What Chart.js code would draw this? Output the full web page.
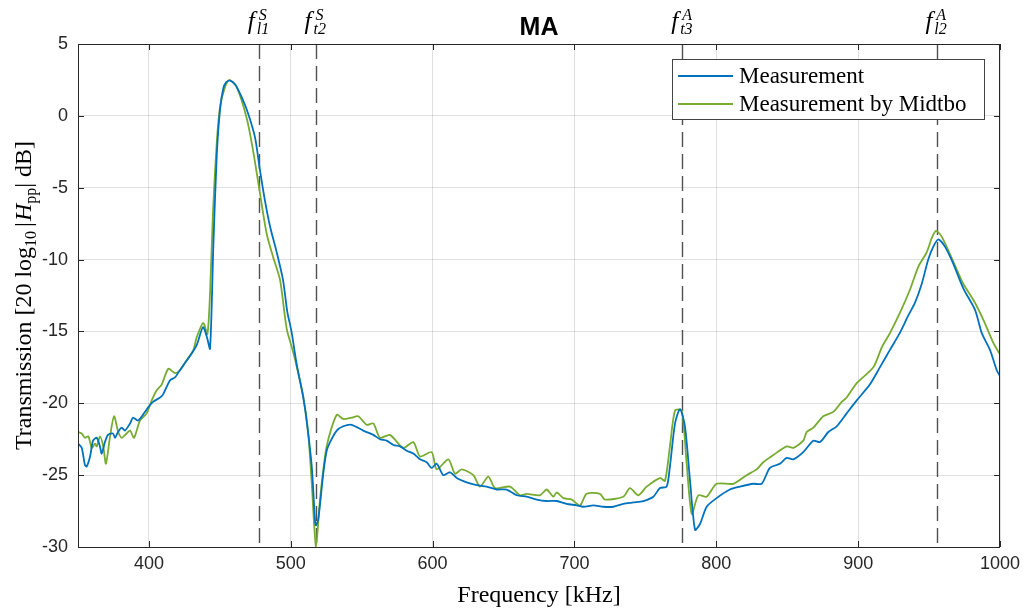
<!DOCTYPE html>
<html>
<head>
<meta charset="utf-8">
<script src="https://cdn.jsdelivr.net/npm/chart.js@4/dist/chart.umd.min.js"></script>
<style>
  html, body { margin: 0; padding: 0; background: #fff; }
  #wrap { width: 1023px; height: 610px; }
</style>
</head>
<body>
<div id="wrap"><canvas id="chart"></canvas></div>
<script>
// transmission spectra, frequency in kHz, level in dB
const freqMeas = [350.0, 352.6, 354.9, 356.1, 358.5, 360.6, 363.2, 365.5, 366.7, 369.0, 371.1, 374.7, 376.1, 378.2, 380.8, 383.1, 386.7, 388.8, 392.3, 397.2, 399.3, 402.9, 407.8, 409.9, 414.9, 418.4, 420.5, 425.4, 430.4, 433.9, 438.1, 440.9, 443.1, 445.4, 447.8, 450.1, 452.4, 454.5, 457.2, 460.7, 465.4, 469.8, 474.8, 478.3, 481.8, 485.4, 490.1, 494.5, 497.5, 500.5, 504.2, 508.8, 511.2, 514.8, 517.1, 517.8, 519.5, 522.9, 525.3, 527.7, 532.4, 537.0, 542.9, 551.1, 558.2, 562.9, 567.6, 572.3, 577.0, 581.7, 586.4, 591.1, 595.8, 599.3, 602.9, 607.5, 612.3, 617.0, 624.0, 631.1, 638.1, 645.2, 652.2, 659.3, 666.3, 673.4, 680.4, 687.5, 694.5, 701.6, 706.3, 713.3, 720.3, 727.4, 734.4, 741.5, 748.5, 755.6, 760.3, 765.0, 767.3, 770.9, 774.4, 777.9, 781.4, 785.0, 788.5, 793.2, 800.2, 809.6, 816.7, 826.1, 832.0, 837.8, 844.9, 849.6, 854.3, 861.3, 868.4, 873.1, 879.0, 884.9, 891.9, 899.0, 908.2, 915.3, 922.3, 929.4, 935.3, 940.1, 944.8, 949.4, 953.0, 956.5, 961.2, 967.1, 974.1, 982.4, 987.1, 993.0, 997.7, 1000.0];
const dbMeas = [-22.8, -23.1, -24.3, -24.4, -23.7, -22.6, -22.4, -23.0, -23.5, -22.7, -22.2, -22.1, -22.4, -22.0, -21.7, -21.9, -21.4, -21.0, -21.2, -20.6, -20.3, -19.9, -19.6, -19.4, -18.4, -18.2, -17.9, -17.2, -16.5, -15.9, -14.7, -15.4, -16.2, -9.1, -2.8, 0.4, 1.9, 2.35, 2.45, 2.2, 1.3, 0.2, -1.5, -3.8, -5.9, -7.7, -9.5, -11.4, -13.6, -15.0, -17.3, -19.6, -21.2, -24.4, -28.2, -28.5, -28.0, -24.9, -23.3, -22.7, -21.9, -21.6, -21.5, -21.9, -22.2, -22.5, -22.6, -22.9, -23.0, -23.3, -23.5, -23.9, -24.1, -24.5, -24.2, -25.0, -24.8, -25.2, -25.5, -25.7, -25.8, -26.0, -26.0, -26.4, -26.5, -26.7, -26.8, -26.8, -27.0, -27.1, -27.2, -27.1, -27.2, -27.2, -27.0, -26.9, -26.8, -26.5, -25.9, -25.8, -24.4, -21.4, -20.4, -21.6, -25.3, -28.8, -28.4, -27.2, -26.6, -26.0, -25.8, -25.6, -25.6, -24.5, -24.2, -23.8, -23.9, -23.4, -22.6, -22.7, -22.0, -21.6, -20.7, -19.8, -18.7, -17.5, -16.3, -15.1, -13.9, -13.0, -11.7, -10.0, -9.1, -8.6, -9.1, -10.3, -12.0, -13.5, -15.1, -16.3, -17.7, -18.1];

const freqMidtbo = [350.0, 352.6, 354.9, 357.3, 359.7, 362.0, 363.2, 365.5, 367.8, 369.7, 372.6, 375.4, 378.4, 380.8, 384.3, 386.7, 389.5, 393.7, 398.4, 402.0, 405.5, 409.0, 413.7, 418.4, 421.9, 426.6, 431.3, 433.7, 438.3, 441.2, 443.1, 445.2, 447.8, 450.1, 453.6, 456.7, 461.9, 468.9, 473.4, 478.3, 483.0, 487.5, 492.4, 497.1, 501.6, 504.8, 508.8, 512.3, 514.8, 517.8, 520.6, 525.3, 532.4, 537.0, 542.9, 547.6, 553.5, 558.2, 562.9, 569.9, 579.3, 586.4, 591.1, 599.3, 602.9, 611.1, 615.8, 620.5, 628.7, 633.4, 639.3, 644.0, 654.6, 661.6, 666.3, 675.7, 680.4, 685.1, 687.5, 692.2, 698.1, 703.9, 708.6, 718.0, 721.5, 734.4, 739.1, 745.0, 750.9, 760.3, 763.8, 767.3, 770.9, 775.6, 779.1, 782.7, 787.3, 793.2, 800.2, 812.0, 821.4, 828.4, 833.1, 840.2, 849.6, 854.3, 861.3, 863.7, 868.4, 875.4, 882.5, 888.4, 891.9, 899.0, 910.7, 916.7, 922.5, 929.5, 936.5, 942.4, 948.3, 951.9, 954.9, 958.9, 966.0, 974.2, 981.2, 988.3, 995.3, 1000.0];
const dbMidtbo = [-22.0, -22.1, -22.4, -22.3, -23.1, -22.8, -23.0, -22.3, -23.0, -24.2, -22.3, -20.9, -22.0, -22.4, -22.1, -21.9, -22.4, -21.2, -20.7, -19.8, -19.1, -18.7, -17.6, -17.9, -17.7, -17.0, -16.3, -15.4, -14.4, -15.2, -12.3, -6.6, -1.9, 0.6, 2.0, 2.5, 2.0, -0.15, -2.4, -5.4, -8.2, -9.8, -11.4, -14.8, -16.4, -17.7, -19.5, -22.1, -25.6, -30.0, -26.7, -23.0, -20.8, -21.1, -21.0, -20.9, -21.5, -21.4, -22.4, -22.2, -23.1, -22.7, -23.7, -23.4, -24.6, -23.9, -24.9, -24.6, -25.0, -25.8, -25.1, -25.9, -25.8, -26.4, -26.3, -26.4, -26.0, -26.5, -26.2, -26.6, -26.7, -27.1, -26.3, -26.3, -26.7, -26.5, -25.9, -26.4, -25.8, -25.2, -25.4, -23.0, -20.5, -20.5, -24.2, -27.7, -26.4, -26.5, -25.6, -25.6, -25.0, -24.6, -24.1, -23.6, -23.0, -23.1, -22.6, -22.0, -21.7, -20.9, -20.6, -19.9, -19.6, -18.6, -17.5, -16.1, -15.1, -13.7, -12.1, -10.5, -9.5, -8.5, -8.0, -8.4, -9.9, -11.7, -12.8, -14.2, -15.8, -16.6];

// cut-off / mode frequencies marked with dashed lines
const markerFreqs = [477.6, 517.6, 776.1, 955.3];
const markerSub = ['l1', 't2', 't3', 'l2'];
const markerSup = ['S', 'S', 'A', 'A'];

const seriesLabels = ['Measurement', 'Measurement by Midtbo'];
const seriesColors = ['#0072BD', '#77AC30'];

const AXIS = '#262626';
const SERIF = '"Liberation Serif", "Times New Roman", serif';
const SANS = '"Liberation Sans", Arial, sans-serif';

function toPoints(xs, ys) {
  return xs.map((x, i) => ({ x: x, y: ys[i] }));
}

// draw a run of text pieces (with sub/superscripts) starting at x
function drawRuns(ctx, runs, x, y) {
  let cx = x;
  runs.forEach(r => {
    ctx.font = r.font;
    ctx.fillText(r.text, cx, y + (r.dy || 0));
    cx += ctx.measureText(r.text).width + (r.gap || 0);
  });
}
function runsWidth(ctx, runs) {
  let w = 0;
  runs.forEach(r => {
    ctx.font = r.font;
    w += ctx.measureText(r.text).width + (r.gap || 0);
  });
  return w;
}

const decorations = {
  id: 'decorations',
  beforeDatasetsDraw(chart) {
    const { ctx, chartArea: a, scales } = chart;
    ctx.save();
    ctx.strokeStyle = '#505050';
    ctx.lineWidth = 1.4;
    ctx.setLineDash([15, 7]);
    markerFreqs.forEach(f => {
      const px = Math.round(scales.x.getPixelForValue(f)) + 0.5;
      ctx.beginPath();
      ctx.moveTo(px, a.top);
      ctx.lineTo(px, a.bottom);
      ctx.stroke();
    });
    ctx.restore();
  },
  afterDraw(chart) {
    const { ctx, chartArea: a, scales } = chart;
    ctx.save();

    // box and inward ticks
    ctx.strokeStyle = AXIS;
    ctx.lineWidth = 1;
    ctx.strokeRect(a.left + 0.5, a.top + 0.5, a.right - a.left - 1, a.bottom - a.top);
    ctx.beginPath();
    scales.x.ticks.forEach(t => {
      const px = Math.round(scales.x.getPixelForValue(t.value)) + 0.5;
      ctx.moveTo(px, a.bottom); ctx.lineTo(px, a.bottom - 6);
      ctx.moveTo(px, a.top); ctx.lineTo(px, a.top + 6);
    });
    scales.y.ticks.forEach(t => {
      const py = Math.round(scales.y.getPixelForValue(t.value)) + 0.5;
      ctx.moveTo(a.left, py); ctx.lineTo(a.left + 6, py);
      ctx.moveTo(a.right, py); ctx.lineTo(a.right - 6, py);
    });
    ctx.stroke();

    ctx.fillStyle = '#000';
    ctx.textBaseline = 'alphabetic';
    ctx.textAlign = 'left';

    // title
    ctx.font = 'bold 25px ' + SANS;
    ctx.textAlign = 'center';
    ctx.fillText('MA', (a.left + a.right) / 2, 35);
    ctx.textAlign = 'left';

    // marker labels above the axes
    markerFreqs.forEach((f, i) => {
      const px = scales.x.getPixelForValue(f);
      const big = 'italic 25px ' + SERIF;
      const small = 'italic 16px ' + SERIF;
      ctx.font = big;
      const fw = ctx.measureText('f').width + 3;
      ctx.font = small;
      const subW = ctx.measureText(markerSub[i]).width;
      const supW = ctx.measureText(markerSup[i]).width;
      const w = fw + Math.max(subW, supW);
      const x0 = px - w / 2;
      ctx.font = big;
      ctx.fillText('f', x0, 29);
      ctx.font = small;
      ctx.fillText(markerSup[i], x0 + fw + 1, 20);
      ctx.fillText(markerSub[i], x0 + fw - 1, 34);
    });

    // x axis title
    ctx.font = '24px ' + SERIF;
    ctx.textAlign = 'center';
    ctx.fillText('Frequency [kHz]', (a.left + a.right) / 2, 602);
    ctx.textAlign = 'left';

    // y axis title, rotated
    const big = '24px ' + SERIF;
    const small = '16px ' + SERIF;
    const runs = [
      { text: 'Transmission [20 log', font: big },
      { text: '10', font: small, dy: 5, gap: 4 },
      { text: '|', font: big, gap: 1 },
      { text: 'H', font: 'italic 24px ' + SERIF },
      { text: 'pp', font: small, dy: 5 },
      { text: '| dB]', font: big }
    ];
    const w = runsWidth(ctx, runs);
    ctx.translate(31, (a.top + a.bottom) / 2);
    ctx.rotate(-Math.PI / 2);
    drawRuns(ctx, runs, -w / 2, 0);
    ctx.setTransform(1, 0, 0, 1, 0, 0);

    // legend box
    const lx = 672, ly = 59, lw = 312, lh = 60;
    ctx.fillStyle = '#fff';
    ctx.fillRect(lx, ly, lw, lh);
    ctx.strokeStyle = '#444';
    ctx.lineWidth = 1;
    ctx.strokeRect(lx + 0.5, ly + 0.5, lw, lh);
    chart.data.datasets.forEach((ds, i) => {
      const yy = ly + 17 + i * 28;
      ctx.strokeStyle = ds.borderColor;
      ctx.lineWidth = 2;
      ctx.beginPath();
      ctx.moveTo(lx + 6, yy);
      ctx.lineTo(lx + 61, yy);
      ctx.stroke();
      ctx.fillStyle = '#000';
      ctx.font = '23px ' + SERIF;
      ctx.fillText(ds.label, lx + 67, yy + 7);
    });

    ctx.restore();
  }
};

new Chart(document.getElementById('chart'), {
  type: 'line',
  data: {
    datasets: [
      {
        label: seriesLabels[0],
        data: toPoints(freqMeas, dbMeas),
        borderColor: seriesColors[0],
        borderWidth: 1.8,
        pointRadius: 0,
        tension: 0.25
      },
      {
        label: seriesLabels[1],
        data: toPoints(freqMidtbo, dbMidtbo),
        borderColor: seriesColors[1],
        borderWidth: 1.8,
        pointRadius: 0,
        tension: 0.25
      }
    ]
  },
  options: {
    responsive: true,
    maintainAspectRatio: false,
    animation: false,
    layout: { padding: { left: 0, right: 23, top: 44, bottom: 0 } },
    plugins: {
      legend: { display: false },
      tooltip: { enabled: false }
    },
    scales: {
      x: {
        type: 'linear',
        min: 350,
        max: 1000,
        ticks: {
          stepSize: 100,
          padding: 6,
          color: AXIS,
          font: { family: SANS, size: 18 },
          maxRotation: 0,
          callback: v => String(v)
        },
        afterBuildTicks: scale => {
          scale.ticks = scale.ticks.filter(t => t.value % 100 === 0);
        },
        afterFit: scale => {
          scale.height = 63;
          scale.paddingLeft = 0;
          scale.paddingRight = 0;
        },
        grid: { color: 'rgba(38,38,38,0.14)', drawTicks: false },
        border: { display: false }
      },
      y: {
        min: -30,
        max: 5,
        ticks: {
          stepSize: 5,
          padding: 10,
          color: AXIS,
          font: { family: SANS, size: 18 }
        },
        afterFit: scale => {
          scale.width = 78;
          scale.paddingTop = 0;
          scale.paddingBottom = 0;
        },
        grid: { color: 'rgba(38,38,38,0.14)', drawTicks: false },
        border: { display: false }
      }
    }
  },
  plugins: [decorations]
});
</script>
</body>
</html>
